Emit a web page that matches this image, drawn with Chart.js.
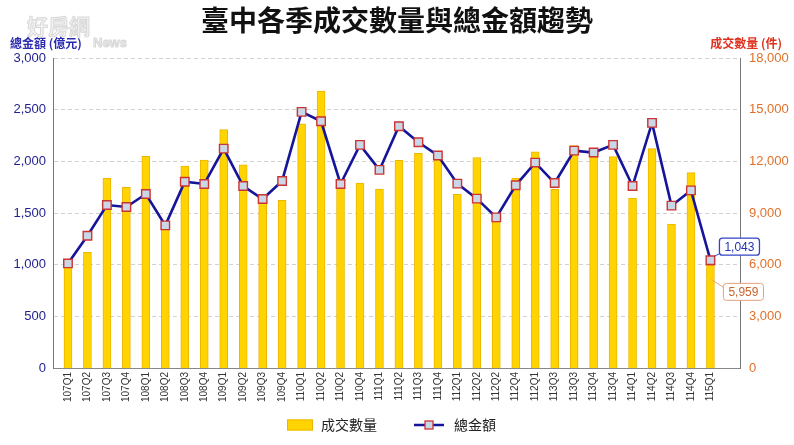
<!DOCTYPE html>
<html>
<head>
<meta charset="utf-8">
<script src="https://cdn.jsdelivr.net/npm/chart.js@4.4.1/dist/chart.umd.min.js"></script>
<style>
  html, body { margin: 0; padding: 0; background: #ffffff; }
  #c { display: block; }
</style>
</head>
<body>
<canvas id="c" width="794" height="445"></canvas>
<script>
// ---- data ----
const quarters = ['107Q1','107Q2','107Q3','107Q4','108Q1','108Q2','108Q3','108Q4',
  '109Q1','109Q2','109Q3','109Q4','110Q1','110Q2','110Q2','110Q4',
  '111Q1','111Q2','111Q3','111Q4','112Q1','112Q2','112Q2','112Q4','112Q1',
  '113Q3','113Q3','113Q4','113Q4','114Q1','114Q2','114Q3','114Q4','115Q1'];

// 成交數量 (件)
const dealCounts = [6000, 6710, 11015, 10490, 12295, 8050, 11730, 12080,
  13845, 11790, 9650, 9735, 14176, 16076, 10600, 10742,
  10394, 12062, 12469, 12150, 10084, 12217, 8500, 11034, 12547,
  10374, 12914, 12274, 12274, 9870, 12739, 8357, 11343, 5959];

// 總金額 (億元)
const totalAmounts = [1012, 1280, 1577, 1558, 1684, 1380, 1803, 1781,
  2123, 1761, 1635, 1810, 2479, 2388, 1781, 2159,
  1917, 2340, 2185, 2056, 1784, 1639, 1458, 1768, 1988,
  1790, 2104, 2085, 2159, 1761, 2372, 1571, 1719, 1043];

const amountTicks = [0, 500, 1000, 1500, 2000, 2500, 3000];
const countTicks = [0, 3000, 6000, 9000, 12000, 15000, 18000];

const chartTitle = '臺中各季成交數量與總金額趨勢';
const amountAxisTitle = '總金額 (億元)';
const countAxisTitle = '成交數量 (件)';
const watermarkMain = '好房網';
const watermarkSub = 'News';

// ---- styling ----
const CJK = '"Noto Sans CJK TC", "Noto Sans CJK SC", sans-serif';
const LAT = '"Liberation Sans", Arial, sans-serif';
const BAR_FILL = '#FFD400';
const BAR_BORDER = '#EDB500';
const LINE_COLOR = '#15159C';
const MARK_FILL = '#C9D7E6';
const MARK_BORDER = '#CC3333';
const fmt = v => Number(v).toLocaleString('en-US');
const xy = arr => arr.map((v, i) => ({ x: i, y: v }));

const decor = {
  id: 'decor',
  beforeDraw(chart) {
    const ctx = chart.ctx;
    ctx.save();
    ctx.textBaseline = 'middle';
    ctx.textAlign = 'left';
    ctx.font = 'bold 21px ' + CJK;
    ctx.lineWidth = 1;
    ctx.strokeStyle = 'rgba(190,190,190,0.55)';
    ctx.fillStyle = 'rgba(242,242,242,0.9)';
    ctx.fillText(watermarkMain, 27, 26);
    ctx.strokeText(watermarkMain, 27, 26);
    ctx.font = 'bold 13px ' + LAT;
    ctx.fillText(watermarkSub, 93, 43);
    ctx.strokeText(watermarkSub, 93, 43);
    ctx.restore();
  },
  afterDatasetsDraw(chart) {
    const ctx = chart.ctx;
    const li = quarters.length - 1;
    const pt = chart.getDatasetMeta(1).data[li];
    const bar = chart.getDatasetMeta(0).data[li];
    const callout = (text, bx, by, textColor, borderColor, lw, fx, fy, tx, ty) => {
      ctx.save();
      ctx.font = '12px ' + LAT;
      const w = ctx.measureText(text).width + 10, h = 17;
      ctx.strokeStyle = borderColor;
      ctx.lineWidth = 1;
      ctx.beginPath(); ctx.moveTo(fx, fy); ctx.lineTo(tx, ty); ctx.stroke();
      ctx.lineWidth = lw;
      ctx.fillStyle = '#ffffff';
      ctx.beginPath(); ctx.roundRect(bx, by, w, h, 3); ctx.fill(); ctx.stroke();
      ctx.fillStyle = textColor;
      ctx.textAlign = 'center';
      ctx.textBaseline = 'middle';
      ctx.fillText(text, bx + w / 2, by + h / 2 + 0.5);
      ctx.restore();
    };
    callout(fmt(totalAmounts[li]), pt.x + 9, pt.y - 22, '#2233B0', '#3344C4', 1.3,
      pt.x + 4, pt.y - 4, pt.x + 12, pt.y - 8);
    callout(fmt(dealCounts[li]), bar.x + 13, bar.y + 18, '#C8642E', '#E8A07A', 1,
      bar.x + 1, bar.y + 14, bar.x + 16, bar.y + 24);
  },
  afterDraw(chart) {
    const ctx = chart.ctx;
    ctx.save();
    // axis titles
    ctx.textBaseline = 'middle';
    ctx.font = 'bold 12px ' + CJK;
    ctx.fillStyle = '#2A2AB0';
    ctx.textAlign = 'left';
    ctx.fillText(amountAxisTitle, 10, 43);
    ctx.fillStyle = '#E0301E';
    ctx.textAlign = 'right';
    ctx.fillText(countAxisTitle, 782, 43);

    // legend
    const ds = chart.data.datasets;
    const y = 425;
    let x = 287;
    ctx.fillStyle = ds[0].backgroundColor;
    ctx.strokeStyle = ds[0].borderColor;
    ctx.lineWidth = 1;
    ctx.fillRect(x, y - 5.5, 26, 11);
    ctx.strokeRect(x + 0.5, y - 5, 25, 10);
    x += 26 + 8;
    ctx.font = '14px ' + CJK;
    ctx.fillStyle = '#222222';
    ctx.textAlign = 'left';
    ctx.fillText(ds[0].label, x, y);
    x += ctx.measureText(ds[0].label).width + 37;
    ctx.strokeStyle = ds[1].borderColor;
    ctx.lineWidth = 2.5;
    ctx.beginPath(); ctx.moveTo(x, y); ctx.lineTo(x + 30, y); ctx.stroke();
    ctx.fillStyle = ds[1].pointBackgroundColor;
    ctx.strokeStyle = ds[1].pointBorderColor;
    ctx.lineWidth = 1.3;
    ctx.fillRect(x + 11, y - 4, 8, 8);
    ctx.strokeRect(x + 11, y - 4, 8, 8);
    x += 30 + 10;
    ctx.fillStyle = '#222222';
    ctx.fillText(ds[1].label, x, y);
    ctx.restore();
  }
};

new Chart(document.getElementById('c'), {
  type: 'bar',
  data: {
    datasets: [
      {
        type: 'bar',
        label: '成交數量',
        data: xy(dealCounts),
        yAxisID: 'yCount',
        backgroundColor: BAR_FILL,
        borderColor: BAR_BORDER,
        borderWidth: 1,
        barThickness: 8,
        order: 2
      },
      {
        type: 'line',
        label: '總金額',
        data: xy(totalAmounts),
        yAxisID: 'yAmount',
        borderColor: LINE_COLOR,
        borderWidth: 2.6,
        pointStyle: 'rect',
        pointRadius: 6,
        pointBackgroundColor: MARK_FILL,
        pointBorderColor: MARK_BORDER,
        pointBorderWidth: 1.4,
        tension: 0,
        order: 1
      }
    ]
  },
  options: {
    responsive: false,
    animation: false,
    layout: { padding: { left: 0, right: 0, top: 0, bottom: 40 } },
    plugins: {
      legend: { display: false },
      tooltip: { enabled: false },
      title: {
        display: true,
        text: chartTitle,
        color: '#111111',
        font: { size: 28, weight: 'bold', family: CJK, lineHeight: 1.2 },
        padding: { top: 4, bottom: 20.4 }
      }
    },
    scales: {
      x: {
        type: 'linear',
        min: -0.25,
        max: 34,
        grid: { display: false, drawTicks: false },
        border: { display: true, color: '#888888', width: 1 },
        afterBuildTicks: s => { s.ticks = quarters.map((_, i) => ({ value: i })); },
        afterFit: s => { s.height = 37; },
        ticks: {
          autoSkip: false,
          minRotation: 90,
          maxRotation: 90,
          padding: 4,
          color: '#333333',
          font: { size: 10, family: LAT },
          callback: v => quarters[v]
        }
      },
      yAmount: {
        position: 'left',
        min: 0,
        max: 3000,
        afterBuildTicks: s => { s.ticks = amountTicks.map(v => ({ value: v })); },
        afterFit: s => { s.width = 53; },
        grid: { color: '#D2D2D2', lineWidth: 1, drawTicks: false },
        border: { display: true, color: '#777777', width: 1, dash: [4, 3] },
        ticks: {
          padding: 7,
          color: '#1E1E8C',
          font: { size: 13, family: LAT },
          callback: v => fmt(v)
        }
      },
      yCount: {
        position: 'right',
        min: 0,
        max: 18000,
        afterBuildTicks: s => { s.ticks = countTicks.map(v => ({ value: v })); },
        afterFit: s => { s.width = 54; },
        grid: { display: false, drawTicks: false },
        border: { display: true, color: '#777777', width: 1 },
        ticks: {
          padding: 9,
          color: '#E07028',
          font: { size: 13, family: LAT },
          callback: v => fmt(v)
        }
      }
    }
  },
  plugins: [decor]
});
</script>
</body>
</html>
